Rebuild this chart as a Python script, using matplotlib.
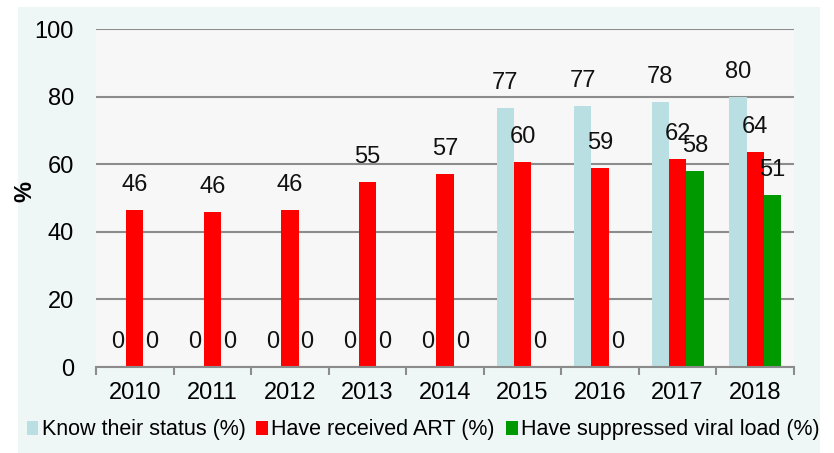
import matplotlib.pyplot as plt
from matplotlib.patches import Rectangle
import numpy as np

plt.rcParams['font.family'] = ['Liberation Sans', 'DejaVu Sans']

years = ['2010', '2011', '2012', '2013', '2014', '2015', '2016', '2017', '2018']
know = [0, 0, 0, 0, 0, 76.5, 77.2, 78.5, 79.8]
art = [46.4, 45.9, 46.4, 54.8, 57.1, 60.6, 59.0, 61.5, 63.6]
viral = [0, 0, 0, 0, 0, 0, 0, 58.0, 50.8]
know_lbl = ['0', '0', '0', '0', '0', '77', '77', '78', '80']
art_lbl = ['46', '46', '46', '55', '57', '60', '59', '62', '64']
viral_lbl = ['0', '0', '0', '0', '0', '0', '0', '58', '51']

fig = plt.figure(figsize=(8.34, 4.53), dpi=100)
# pale chart-area background
fig.patches.append(Rectangle((18 / 834, 0), 802 / 834, 1 - 7 / 453,
                             transform=fig.transFigure, facecolor='#EEF7F6',
                             edgecolor='none', zorder=-5))
ax = fig.add_axes([96 / 834, 1 - 367 / 453, 698 / 834, 338 / 453])
ax.set_facecolor('#F7F7F7')

x = np.arange(len(years))
w = 0.223
series = [
    (know, know_lbl, '#BADFE2', 'Know their status (%)', -w),
    (art, art_lbl, '#FF0000', 'Have received ART (%)', 0),
    (viral, viral_lbl, '#009900', 'Have suppressed viral load (%)', w),
]
for vals, lbls, col, name, off in series:
    ax.bar(x + off, vals, width=w, color=col, label=name, zorder=3)
    for xi, v, t in zip(x, vals, lbls):
        ax.annotate(t, (xi + off, v), xytext=(0, 18), textcoords='offset points',
                    ha='center', va='center', fontsize=17, color='#111111', zorder=4)

ax.set_xlim(-0.5, len(years) - 0.5)
ax.set_ylim(0, 100)
ax.set_yticks(range(0, 101, 20))
ax.yaxis.grid(True, color='#8C8C8C', linewidth=1.5, zorder=1)
ax.tick_params(axis='y', length=0, pad=16, labelsize=17)

ax.set_xticks(np.arange(-0.5, len(years), 1))
ax.set_xticklabels([])
ax.set_xticks(x, minor=True)
ax.set_xticklabels(years, minor=True)
ax.tick_params(axis='x', which='major', length=6, width=1.5, color='#8C8C8C', direction='out')
ax.tick_params(axis='x', which='minor', length=0, pad=11, labelsize=17)

for s in ['left', 'right', 'top']:
    ax.spines[s].set_visible(False)
ax.spines['bottom'].set_color('#8C8C8C')
ax.spines['bottom'].set_linewidth(1.5)
ax.spines['bottom'].set_zorder(5)

ax.set_ylabel('%', fontsize=17, fontweight='bold')
ax.yaxis.set_label_coords(-0.086, 0.52)

ax.legend(loc='center', bbox_to_anchor=(423 / 834, 1 - 430 / 453), bbox_transform=fig.transFigure,
          ncol=3, frameon=False, fontsize=15.5, handlelength=0.55, handleheight=0.6,
          handletextpad=0.15, columnspacing=0.5, borderpad=0, borderaxespad=0)

plt.savefig('out.png', dpi=100)
